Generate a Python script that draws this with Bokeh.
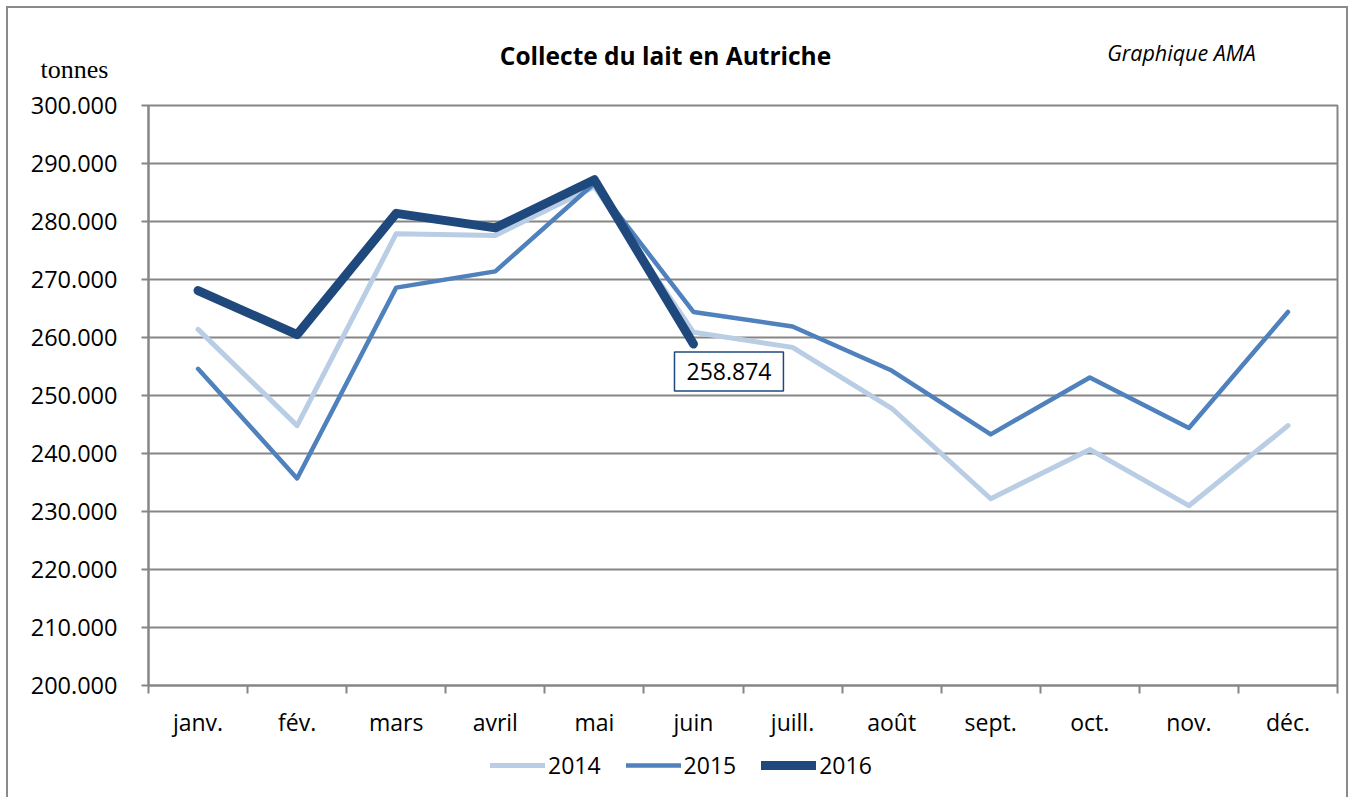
from bokeh.plotting import figure
from bokeh.layouts import column, row
from bokeh.models import Range1d, FixedTicker, Label, Legend, LegendItem
from bokeh.core.properties import value
from bokeh.embed import file_html
from bokeh.resources import INLINE

months = ["janv.", "fév.", "mars", "avril", "mai", "juin", "juill.", "août",
          "sept.", "oct.", "nov.", "déc."]
v2014 = [261400, 244800, 277900, 277600, 286000, 260900, 258300, 247800,
         232200, 240700, 231000, 244800]
v2015 = [254600, 235700, 268600, 271400, 286600, 264400, 261900, 254300,
         243300, 253100, 244400, 264400]
v2016 = [268100, 260500, 281400, 278900, 287200, 258874]
y_ticks = list(range(200000, 300001, 10000))
last_label = "258.874"
title = "Collecte du lait en Autriche"
source_note = "Graphique AMA"
unit = "tonnes"

W = 1354
FL, FR = 148, 1337            # frame left / right edge in page pixels
HEAD_H, MAIN_H, LEG_H = 90, 650, 63
TOP_PAD = 15
grid_c = "#868686"
c14, c15, c16 = "#B9CDE5", "#4F81BD", "#1F497D"

xs = [i + 0.5 for i in range(len(months))]


def bare(fig):
    fig.xaxis.visible = False
    fig.yaxis.visible = False
    fig.xgrid.visible = False
    fig.ygrid.visible = False
    fig.outline_line_color = None
    fig.background_fill_color = None
    fig.border_fill_color = None
    fig.min_border = 0
    fig.min_border_left = 0
    fig.min_border_right = 0
    fig.min_border_top = 0
    fig.min_border_bottom = 0


# ---- header: unit label, title and source note (own full-width frame)
head = figure(width=W, height=HEAD_H, output_backend="svg", toolbar_location=None,
              x_range=Range1d(0, W), y_range=Range1d(HEAD_H, 0))
bare(head)
head.text(x=[665], y=[55], text=[title], text_align="center",
          text_baseline="middle", text_font=value("Open Sans"),
          text_font_style="bold", text_font_size="24.5px", text_color="black")
head.text(x=[1181], y=[52], text=[source_note], text_align="center",
          text_baseline="middle", text_font=value("Open Sans"),
          text_font_style="italic", text_font_size="21.5px", text_color="black")
head.text(x=[74], y=[69], text=[unit], text_align="center",
          text_baseline="middle", text_font=value("Liberation Serif"),
          text_font_size="26px", text_color="black")

# ---- main chart
p = figure(width=W, height=MAIN_H, output_backend="svg", toolbar_location=None,
           x_range=Range1d(0, 12), y_range=Range1d(200000, 300000),
           min_border_left=FL, min_border_right=W - FR, min_border_top=TOP_PAD,
           min_border_bottom=MAIN_H - 580 - TOP_PAD)
p.background_fill_color = "white"
p.border_fill_color = None
p.outline_line_color = grid_c
p.outline_line_width = 2

p.xgrid.visible = False
p.ygrid.ticker = FixedTicker(ticks=y_ticks)
p.ygrid.grid_line_color = grid_c
p.ygrid.grid_line_width = 2

ya = p.yaxis[0]
ya.ticker = FixedTicker(ticks=y_ticks)
ya.major_label_overrides = {t: f"{t:,}".replace(",", ".") for t in y_ticks}
ya.axis_line_color = grid_c
ya.axis_line_width = 2
ya.major_tick_line_color = grid_c
ya.major_tick_line_width = 2
ya.major_tick_out = 7
ya.major_tick_in = 0
ya.minor_tick_line_color = None
ya.major_label_text_font = "Open Sans"
ya.major_label_text_font_size = "23.5px"
ya.major_label_text_color = "black"
ya.major_label_standoff = 24

xa = p.xaxis[0]
xa.ticker = FixedTicker(ticks=xs, minor_ticks=list(range(len(months) + 1)))
xa.major_label_overrides = {x: m for x, m in zip(xs, months)}
xa.axis_line_color = grid_c
xa.axis_line_width = 2
xa.major_tick_line_color = None
xa.major_tick_out = 0
xa.major_tick_in = 0
xa.minor_tick_line_color = grid_c
xa.minor_tick_line_width = 2
xa.minor_tick_out = 8
xa.minor_tick_in = 0
xa.major_label_text_font = "Open Sans"
xa.major_label_text_font_size = "23px"
xa.major_label_text_color = "black"
xa.major_label_standoff = 12

r14 = p.line(xs, v2014, line_color=c14, line_width=5,
             line_join="round", line_cap="round")
r15 = p.line(xs, v2015, line_color=c15, line_width=4.5,
             line_join="round", line_cap="round")
r16 = p.line(xs[:len(v2016)], v2016, line_color=c16, line_width=9,
             line_join="round", line_cap="round")

p.add_layout(Label(x=xs[len(v2016) - 1], y=v2016[-1], text=last_label,
                   x_offset=35.5, y_offset=-27.5, text_align="center",
                   text_baseline="middle", text_font="Open Sans",
                   text_font_size="23px", text_color="black",
                   border_line_color=c16, border_line_width=1.5,
                   background_fill_color="white", padding=(12, 11)))

# ---- legend strip (frame aligned with chart)
leg = figure(width=W, height=LEG_H, output_backend="svg", toolbar_location=None,
             x_range=Range1d(0, 1), y_range=Range1d(0, 1))
bare(leg)
leg.min_border_left = FL
leg.min_border_right = W - FR
l14 = leg.line([-2, -1], [-1, -1], line_color=c14, line_width=5, line_cap="round")
l15 = leg.line([-2, -1], [-1, -1], line_color=c15, line_width=4.5, line_cap="round")
l16 = leg.line([-2, -1], [-1, -1], line_color=c16, line_width=9, line_cap="round")
legend = Legend(items=[LegendItem(label="2014", renderers=[l14]),
                       LegendItem(label="2015", renderers=[l15]),
                       LegendItem(label="2016", renderers=[l16])],
                orientation="horizontal", location=(342, 22),
                glyph_width=55, glyph_height=20, label_standoff=3,
                spacing=25, padding=0, margin=0,
                border_line_color=None, background_fill_alpha=0,
                label_text_font="Open Sans", label_text_font_size="23px",
                label_text_color="black")
leg.add_layout(legend, "center")

layout = column(row(head, spacing=0), p, leg, spacing=0)
layout.styles = {
    "box-shadow": ("inset 0 0 0 6px white, inset 8px 0 0 0 #8a8a8a, "
                   "inset -8px 0 0 0 #8a8a8a, inset 0 8px 0 0 #8a8a8a"),
    "background": "white",
}

open("out.html", "w").write(file_html(layout, INLINE))
